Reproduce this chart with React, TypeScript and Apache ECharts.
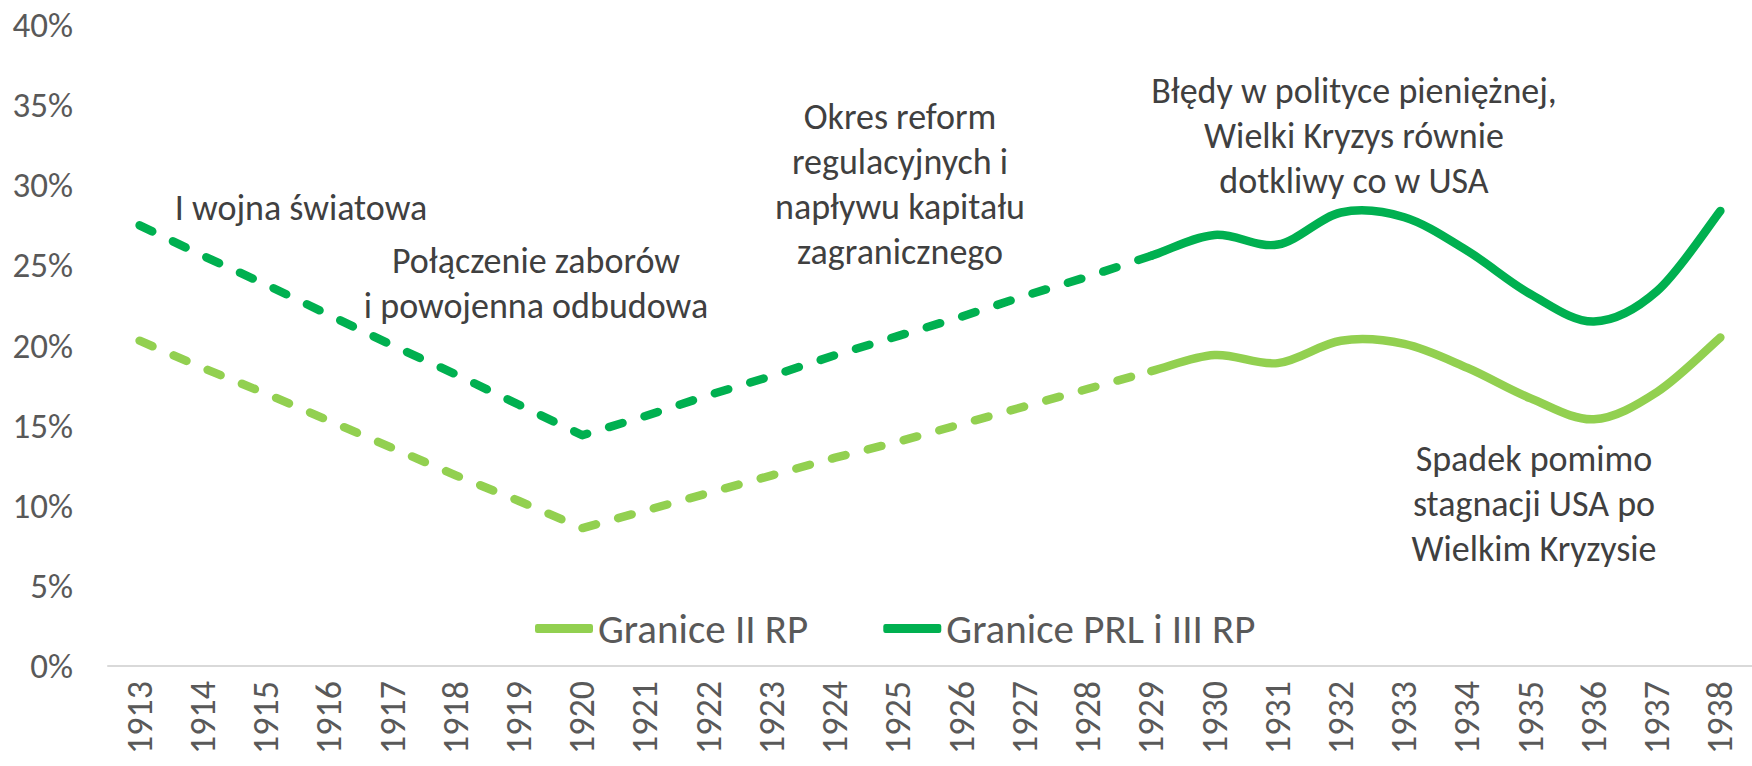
import React, { useEffect, useRef } from "react";
import * as echarts from "echarts";

const years = ["1913","1914","1915","1916","1917","1918","1919","1920","1921","1922","1923","1924","1925","1926","1927","1928","1929","1930","1931","1932","1933","1934","1935","1936","1937","1938"];

// Granice II RP (light green): full series, dashed up to 1929, solid afterwards
const iiRp = [20.3, 18.6, 17.0, 15.3, 13.6, 11.9, 10.3, 8.6, 9.7, 10.8, 11.9, 13.0, 14.0, 15.1, 16.2, 17.3, 18.4, 19.4, 18.9, 20.3, 20.1, 18.6, 16.7, 15.4, 17.1, 20.5];
// Granice PRL i III RP (dark green)
const prl = [27.5, 25.6, 23.8, 21.9, 20.0, 18.2, 16.3, 14.4, 15.6, 16.9, 18.1, 19.4, 20.6, 21.8, 23.1, 24.3, 25.6, 26.9, 26.3, 28.3, 28.0, 25.9, 23.2, 21.5, 23.4, 28.4];

// index of the last estimated (dashed) year – 1929
const splitIndex = 16;

const seriesNames = ["Granice II RP", "Granice PRL i III RP"];

const annotations = [
  { text: "I wojna światowa", x: 301, y: 208 },
  { text: "Połączenie zaborów\ni powojenna odbudowa", x: 536, y: 283 },
  { text: "Okres reform\nregulacyjnych i\nnapływu kapitału\nzagranicznego", x: 900, y: 184 },
  { text: "Błędy w polityce pieniężnej,\nWielki Kryzys równie\ndotkliwy co w USA", x: 1354, y: 136 },
  { text: "Spadek pomimo\nstagnacji USA po\nWielkim Kryzysie", x: 1534, y: 504 },
];

const LIGHT = "#92D050";
const DARK = "#00B050";
const FONT = "Carlito, Calibri, Lato, 'Noto Sans', sans-serif";

function dashedPart(values: number[]) {
  return values.map((v, i) => (i <= splitIndex ? v : null));
}

// Smooth (Catmull-Rom like, as in spreadsheet charts) solid part from splitIndex to the end
function smoothSeries(name: string, values: number[], color: string) {
  const data = values.map((v, i) => [i, v]).filter((d) => (d[0] as number) >= splitIndex);
  return {
    name,
    type: "custom",
    data,
    itemStyle: { color },
    z: 3,
    renderItem: (params: any, api: any) => {
      if (params.dataIndex !== 0) return null;
      const pts: number[][] = [];
      for (let i = splitIndex - 1; i < values.length; i++) {
        pts.push(api.coord([i, values[i]]));
      }
      // pts[0] is the previous (dashed) point, used only for the tangent
      let d = `M${pts[1][0]},${pts[1][1]}`;
      for (let k = 1; k < pts.length - 1; k++) {
        const p0 = pts[k - 1];
        const p1 = pts[k];
        const p2 = pts[k + 1];
        const p3 = pts[k + 2] || p2;
        const t = 1 / 6;
        const c1x = p1[0] + (p2[0] - p0[0]) * t;
        const c1y = p1[1] + (p2[1] - p0[1]) * t;
        const c2x = p2[0] - (p3[0] - p1[0]) * t;
        const c2y = p2[1] - (p3[1] - p1[1]) * t;
        d += ` C${c1x},${c1y} ${c2x},${c2y} ${p2[0]},${p2[1]}`;
      }
      return {
        type: "path",
        shape: { pathData: d },
        style: {
          fill: "none",
          stroke: color,
          lineWidth: 8.5,
          lineCap: "round",
          lineJoin: "round",
        },
      };
    },
  };
}

export default function App() {
  const ref = useRef<HTMLDivElement>(null);

  useEffect(() => {
    document.body.style.margin = "0";
    if (!ref.current) return;
    const chart = echarts.init(ref.current, null, { renderer: "svg" });

    const dashStyle = (color: string) => ({
      color,
      width: 8.5,
      type: [14, 23] as any,
      cap: "round" as const,
      join: "round" as const,
    });

    chart.setOption({
      animation: false,
      backgroundColor: "#ffffff",
      textStyle: { fontFamily: FONT },
      grid: { left: 108, right: -17, top: 25, bottom: 100, containLabel: false },
      legend: {
        data: seriesNames,
        left: 530,
        top: 603,
        icon: "roundRect",
        itemWidth: 58,
        itemHeight: 9,
        itemGap: 75,
        textStyle: { fontSize: 41, color: "#595959", fontFamily: FONT },
      },
      xAxis: {
        type: "category",
        data: years,
        boundaryGap: true,
        axisLine: { show: true, lineStyle: { color: "#d9d9d9", width: 2 } },
        axisTick: { show: false },
        axisLabel: {
          rotate: 90,
          interval: 0,
          margin: 15,
          fontSize: 36,
          fontWeight: 300,
          color: "#595959",
          fontFamily: FONT,
        },
        splitLine: { show: false },
      },
      yAxis: {
        type: "value",
        min: 0,
        max: 40,
        interval: 5,
        axisLine: { show: false },
        axisTick: { show: false },
        splitLine: { show: false },
        axisLabel: {
          formatter: "{value}%",
          margin: 35,
          fontSize: 35,
          fontWeight: 300,
          color: "#595959",
          fontFamily: FONT,
        },
      },
      series: [
        {
          name: "II RP (szacunek)",
          type: "line",
          data: dashedPart(iiRp),
          symbol: "none",
          smooth: false,
          lineStyle: dashStyle(LIGHT),
          itemStyle: { color: LIGHT },
          z: 2,
        },
        {
          name: "PRL (szacunek)",
          type: "line",
          data: dashedPart(prl),
          symbol: "none",
          smooth: false,
          lineStyle: dashStyle(DARK),
          itemStyle: { color: DARK },
          z: 2,
        },
        smoothSeries(seriesNames[0], iiRp, LIGHT),
        smoothSeries(seriesNames[1], prl, DARK),
      ],
      graphic: annotations.map((a) => ({
        type: "text",
        x: a.x,
        y: a.y,
        z: 10,
        style: {
          text: a.text,
          fill: "#404040",
          fontSize: 36,
          fontFamily: FONT,
          lineHeight: 45,
          align: "center",
          verticalAlign: "middle",
        },
      })),
    });

    return () => chart.dispose();
  }, []);

  return <div ref={ref} style={{ width: 1752, height: 766 }} />;
}
